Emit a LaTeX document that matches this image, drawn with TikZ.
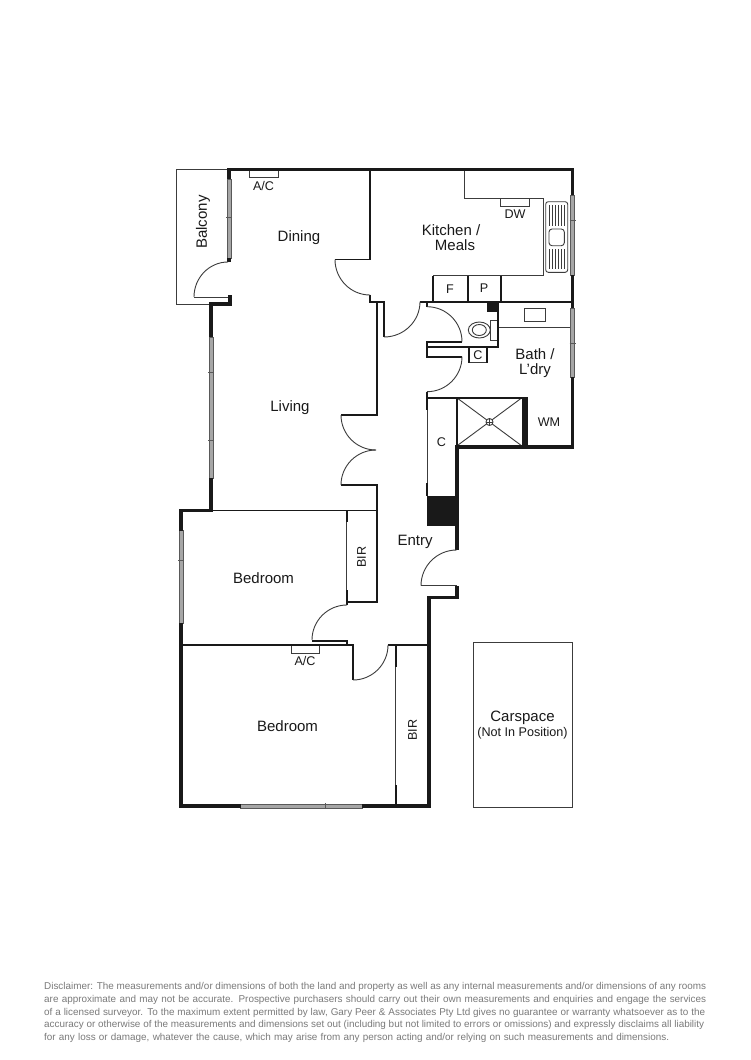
\documentclass[tikz,border=0pt]{standalone}
\usepackage{fontspec}
\setmainfont{Liberation Sans}
\usetikzlibrary{calc}
\definecolor{wallcol}{gray}{0.1}
\tikzstyle{wall}=[draw=wallcol,line width=3.5pt,line join=miter]
\tikzstyle{partition}=[draw=wallcol,line width=1.7pt,line join=miter]
\tikzstyle{thinline}=[draw=wallcol!85,line width=0.9pt]
\tikzstyle{door}=[draw=wallcol!85,line width=0.9pt]
\tikzstyle{glass}=[draw=black!65,fill=black!35,line width=0.6pt]
\tikzstyle{solid block}=[draw=none,fill=wallcol]
\tikzstyle{room}=[font=\fontsize{15}{17}\selectfont,text=black!90,inner sep=0pt]
\tikzstyle{small room}=[font=\fontsize{12.6}{14}\selectfont,text=black!90,inner sep=0pt]
\newcommand{\doorswing}[3]{\draw[door] #1 .. controls ($#1!0.552!#2$) and ($#3!0.552!#2$) .. #3;}
\newcommand{\noteline}[2]{\makebox[#1pt][s]{#2}}
\begin{document}
\begin{tikzpicture}[x=1pt,y=-1pt]
	\useasboundingbox (0,0) rectangle (750,1060);
	\fill[white] (0,0) rectangle (750,1060);
	
	% thin lines
	\draw[thinline] (229,169.5) -- (176,169.5) -- (176,304) -- (211,304);
	\draw[thinline] (464,170) -- (464,198) -- (543,198) -- (543,275.7) -- (433.3,275.7);
	\draw[thinline] (500.7,198) rectangle (529,206);
	\draw[thinline] (249,170) rectangle (278,177.5);
	\draw[thinline] (291,645) rectangle (319,653);
	\draw[thinline] (497.7,327.7) -- (572,327.7);
	\draw[thinline] (524.3,308.3) rectangle (545.7,321.7);
	\draw[thinline] (490.7,320) rectangle (497.7,340);
	\draw[thinline] (479.3,330) ellipse (11 and 8);
	\draw[thinline] (479.3,330) ellipse (7 and 5.5);
	\draw[thinline] (427.3,410) -- (427.3,483);
	\draw[thinline] (346.7,522) -- (346.7,590);
	\draw[thinline] (395.7,667) -- (395.7,785);
	\draw[thinline] (469,362.7) -- (487.3,362.7);
	\draw[thinline] (473,642) rectangle (572,807);
	
	% sink
	\draw[thinline,rounded corners=2.5pt] (545.7,201.7) rectangle (567.7,272.3);
	\draw[thinline,rounded corners=3pt] (549,229) rectangle (564.3,245.7);
	\foreach \gx in {549,552,...,564} {
		\draw[thinline,line width=0.6pt] (\gx,205) -- (\gx,226);
		\draw[thinline,line width=0.6pt] (\gx,249) -- (\gx,269);
	}
	
	% shower
	\draw[thinline] (456.7,397.7) -- (522,446);
	\draw[thinline] (522,397.7) -- (456.7,446);
	\draw[thinline,fill=white] (489.5,422) circle (3.5);
	\draw[thinline,line width=0.6pt] (486,422) -- (493,422);
	\draw[thinline,line width=0.6pt] (489.5,418.5) -- (489.5,425.5);
	
	% windows
	\draw[glass] (227,179) rectangle (231,258);
	\draw[glass] (570.5,195) rectangle (574.5,275);
	\draw[glass] (570.5,308) rectangle (574.5,377);
	\draw[glass] (209,337) rectangle (213,478);
	\draw[glass] (179,530.7) rectangle (183,623);
	\draw[glass] (240.7,804) rectangle (362,808);
	\foreach \wy/\wx in {217/229,220/572.5,343/572.5,372/211,440/211,560/181} {
		\draw[glass] (\wx-3,\wy) -- (\wx+3,\wy);
	}
	\draw[glass] (325,803) -- (325,809);
	
	% black blocks
	\fill[solid block] (426.7,496) rectangle (457,526);
	\fill[solid block] (486.7,301.7) rectangle (497.7,312);
	\fill[solid block] (521.7,397.7) rectangle (528,446);
	
	% outer walls
	\draw[wall] (229,179) -- (229,169.5) -- (572.5,169.5) -- (572.5,195);
	\draw[wall] (229,258) -- (229,262);
	\draw[wall] (572.5,275) -- (572.5,308);
	\draw[wall] (572.5,377) -- (572.5,447) -- (457,447) -- (457,550);
	\draw[wall] (457,586) -- (457,597.5) -- (429,597.5) -- (429,806) -- (362,806);
	\draw[wall] (240.7,806) -- (181,806) -- (181,623);
	\draw[wall] (181,530.7) -- (181,510.5) -- (211,510.5) -- (211,478);
	\draw[wall] (211,337) -- (211,304) -- (230,304) -- (230,297) -- (228,297);
	
	% inner walls
	\draw[partition] (370,169.5) -- (370,259.5) -- (335,259.5);
	\draw[partition] (370,295) -- (370,301.7) -- (384,301.7) -- (384,337);
	\draw[partition] (377,301.7) -- (377,415) -- (341,415);
	\draw[partition] (341,485) -- (377,485) -- (377,602) -- (346.7,602);
	\draw[partition] (181,510.5) -- (377,510.5);
	\draw[partition] (181,645) -- (353,645) -- (353,680);
	\draw[partition] (388,645) -- (429,645);
	\draw[partition] (312,641) -- (347,641) -- (347,645);
	\draw[partition] (346.7,510.5) -- (346.7,522);
	\draw[partition] (346.7,590) -- (346.7,605);
	\draw[partition] (395.7,645) -- (395.7,667);
	\draw[partition] (395.7,785) -- (395.7,806);
	\draw[partition] (420,301.7) -- (572,301.7);
	\draw[partition] (427,301.7) -- (427,306.7);
	\draw[partition] (497.7,301.7) -- (497.7,347.3) -- (427,347.3);
	\draw[partition] (462,341.7) -- (427,341.7) -- (427,356.7) -- (462,356.7);
	\draw[partition] (427,391.7) -- (427,410);
	\draw[partition] (427,397.7) -- (528,397.7);
	\draw[partition] (427.3,483) -- (427.3,496);
	\draw[partition] (456.7,397.7) -- (456.7,446);
	\draw[partition] (433.3,275.7) -- (433.3,301.7);
	\draw[partition] (468.3,275.7) -- (468.3,301.7);
	\draw[partition] (500.7,275.7) -- (500.7,301.7);
	\draw[partition] (469,347.3) -- (469,362.7);
	\draw[partition] (487.3,347.3) -- (487.3,362.7);
	
	% doors
	\doorswing{(228,262)}{(194,262)}{(194,297)}
	\draw[door] (194,297) -- (228,297);
	\doorswing{(335,259.5)}{(335,295)}{(370,295)}
	\doorswing{(341,415)}{(341,450)}{(376,450)}
	\doorswing{(341,485)}{(341,450)}{(376,450)}
	\doorswing{(420,301.7)}{(420,337)}{(384,337)}
	\doorswing{(427,306.7)}{(462,306.7)}{(462,341.7)}
	\doorswing{(462,356.7)}{(462,391.7)}{(427,391.7)}
	\doorswing{(456.7,550)}{(421,550)}{(421,585.7)}
	\draw[door] (421,585.7) -- (457,585.7);
	\doorswing{(347,605)}{(312,605)}{(312,640)}
	\doorswing{(353,680)}{(388,680)}{(388,645)}
	
	% labels
	\node[room,rotate=90] (balcony) at (203,222) {Balcony};
	\node[room] (dining) at (299,238) {Dining};
	\node[small room] (ac1) at (263.5,186) {A/C};
	\node[room] (kitchen) at (451,230) {Kitchen /};
	\node[room] (meals) at (455,245) {Meals};
	\node[small room] (dw) at (515,214) {DW};
	\node[small room] (fridge) at (450,289) {F};
	\node[small room] (pantry) at (484,288) {P};
	\node[small room] (cupb1) at (478,355) {C};
	\node[room] (bath) at (535,354) {Bath /};
	\node[room] (ldry) at (535,371) {L’dry};
	\node[small room] (wm) at (549,422) {WM};
	\node[small room] (cupb2) at (441.5,442.5) {C};
	\node[room] (living) at (290,408) {Living};
	\node[room] (entry) at (415,542) {Entry};
	\node[small room,rotate=90] (bir1) at (361.5,557) {BIR};
	\node[room] (bed1) at (263.5,578) {Bedroom};
	\node[small room] (ac2) at (305,661) {A/C};
	\node[room] (bed2) at (287.5,726) {Bedroom};
	\node[small room,rotate=90] (bir2) at (412.5,730) {BIR};
	\node[room] (carspace) at (522.5,718) {Carspace};
	\node[small room] (notpos) at (522.5,733) {(Not In Position)};
	
	% disclaimer
	\node[anchor=north west,inner sep=0pt,align=left,text=black!52,font=\fontsize{9.9}{12.65}\selectfont] (disclaimer) at (44,982.5) {\noteline{662}{Disclaimer: The measurements and/or dimensions of both the land and property as well as any internal measurements and/or dimensions of any rooms}\\\noteline{662}{are approximate and may not be accurate. Prospective purchasers should carry out their own measurements and enquiries and engage the services}\\\noteline{661}{of a licensed surveyor. To the maximum extent permitted by law, Gary Peer \& Associates Pty Ltd gives no guarantee or warranty whatsoever as to the}\\\noteline{660}{accuracy or otherwise of the measurements and dimensions set out (including but not limited to errors or omissions) and expressly disclaims all liability}\\\noteline{625}{for any loss or damage, whatever the cause, which may arise from any person acting and/or relying on such measurements and dimensions.}};
\end{tikzpicture}
\end{document}
